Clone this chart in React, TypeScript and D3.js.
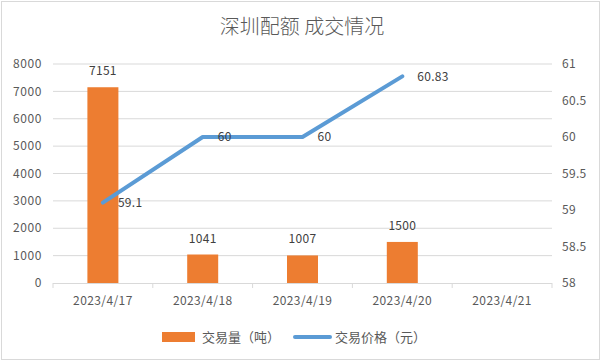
import React from 'react'
import * as d3 from 'd3'

const dates = ['2023/4/17', '2023/4/18', '2023/4/19', '2023/4/20', '2023/4/21']
const volumes: (number | null)[] = [7151, 1041, 1007, 1500, null]
const prices: (number | null)[] = [59.1, 60, 60, 60.83, null]
const volumeTicks = [0, 1000, 2000, 3000, 4000, 5000, 6000, 7000, 8000]
const priceTicks = [58, 58.5, 59, 59.5, 60, 60.5, 61]

const W = 602
const H = 362
const plot = { left: 53, right: 552, top: 64, bottom: 283 }
const font = '"Noto Sans CJK SC", "Noto Sans", sans-serif'
const textColor = '#595959'
const barColor = '#ED7D31'
const lineColor = '#5B9BD5'

export default function App() {
  const x = d3.scaleBand().domain(dates).range([plot.left, plot.right])
  const yL = d3.scaleLinear().domain([0, 8000]).range([plot.bottom, plot.top])
  const yR = d3.scaleLinear().domain([58, 61]).range([plot.bottom, plot.top])
  const barW = 31

  const pts = dates
    .map((d, i) => ({ d, v: prices[i] }))
    .filter(p => p.v != null) as { d: string; v: number }[]
  const lineFn = d3.line<{ d: string; v: number }>()
    .x(p => (x(p.d) as number) + x.bandwidth() / 2)
    .y(p => yR(p.v))

  return (
    <svg width={W} height={H} style={{ position: 'absolute', left: 0, top: 0, fontFamily: font }}>
      <rect x={1.5} y={1.5} width={598} height={358} fill="#fff" stroke="#d9d9d9" />
      <text x={W / 2 + 1} y={34} textAnchor="middle" fontSize={20} fill={textColor} fontWeight={300}>
        深圳配额 成交情况
      </text>

      {volumeTicks.map(t => (
        <g key={t}>
          {t > 0 && (
            <line x1={plot.left} x2={plot.right} y1={yL(t)} y2={yL(t)} stroke="#d9d9d9" />
          )}
          <text x={42} y={yL(t)} dy="0.35em" textAnchor="end" fontSize={12} letterSpacing={0.6} fill={textColor}>
            {t}
          </text>
        </g>
      ))}
      {priceTicks.map(t => (
        <text key={t} x={562} y={yR(t)} dy="0.35em" fontSize={12} letterSpacing={0.3} fill={textColor}>
          {t}
        </text>
      ))}

      <line x1={plot.left} x2={plot.right} y1={plot.bottom + 0.5} y2={plot.bottom + 0.5} stroke="#d9d9d9" />
      {[...dates.map(d => x(d) as number), plot.right].map((v, i) => (
        <line key={i} x1={v} x2={v} y1={plot.bottom} y2={plot.bottom + 5} stroke="#d9d9d9" />
      ))}
      {dates.map(d => (
        <text key={d} x={(x(d) as number) + x.bandwidth() / 2} y={305} textAnchor="middle" fontSize={12} letterSpacing={0.4} fill={textColor}>
          {d}
        </text>
      ))}

      {dates.map((d, i) => {
        const v = volumes[i]
        if (v == null) return null
        const cx = (x(d) as number) + x.bandwidth() / 2
        return (
          <g key={d}>
            <rect x={cx - barW / 2} y={yL(v)} width={barW} height={plot.bottom - yL(v)} fill={barColor} />
            <text x={cx} y={yL(v) - 12} textAnchor="middle" fontSize={12} letterSpacing={0.3} fill="#404040">
              {v}
            </text>
          </g>
        )
      })}

      <path d={lineFn(pts) || ''} fill="none" stroke={lineColor} strokeWidth={4} strokeLinejoin="round" strokeLinecap="round" />
      {pts.map(p => (
        <text key={p.d} x={(x(p.d) as number) + x.bandwidth() / 2 + 15} y={yR(p.v)} dy="0.35em" fontSize={12} letterSpacing={0.3} fill="#404040">
          {p.v}
        </text>
      ))}

      <rect x={162} y={332} width={33} height={10} fill={barColor} />
      <text x={202} y={337} dy="0.35em" fontSize={13} fill={textColor}>交易量（吨）</text>
      <line x1={295} x2={330} y1={337} y2={337} stroke={lineColor} strokeWidth={4} strokeLinecap="round" />
      <text x={335} y={337} dy="0.35em" fontSize={13} fill={textColor}>交易价格（元）</text>
    </svg>
  )
}
